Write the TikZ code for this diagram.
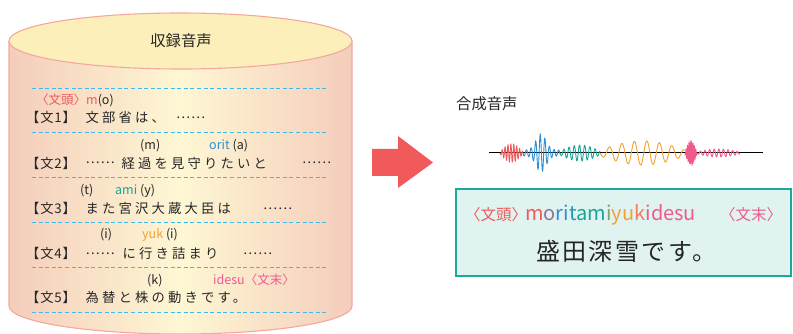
\documentclass[tikz,border=0pt]{standalone}
\usepackage{fontspec}
\setmainfont{Noto Sans CJK JP}
\definecolor{cylEdge}{HTML}{F4CDBB}
\definecolor{cylMid}{HTML}{FEF7D4}
\definecolor{cylTop}{HTML}{FDEFBA}
\definecolor{cylLine}{HTML}{F4A79E}
\definecolor{dashC}{HTML}{3DBBEA}
\definecolor{txt}{HTML}{262626}
\definecolor{cRed}{HTML}{EE5A5A}
\definecolor{cBlue}{HTML}{2E8FD3}
\definecolor{cTeal}{HTML}{16A596}
\definecolor{cOrange}{HTML}{F4A02E}
\definecolor{cPink}{HTML}{EE5A8E}
\definecolor{arrowC}{HTML}{F05A5A}
\definecolor{boxFill}{HTML}{E1F3F1}
\definecolor{boxLine}{HTML}{1AAA9A}
\begin{document}
\begin{tikzpicture}[x=1pt,y=-1pt,
  linetext/.style={anchor=base west, inner sep=0pt, text=txt,
    font=\fontsize{13.3}{15}\selectfont\addfontfeature{LetterSpace=24}},
  dots/.style={anchor=base west, inner sep=0pt, text=txt, yshift=4pt,
    font=\fontsize{13.3}{15}\selectfont\addfontfeature{LetterSpace=6}},
  labeltext/.style={anchor=base west, inner sep=0pt, text=txt,
    font=\fontsize{13.3}{15}\selectfont\addfontfeature{LetterSpace=6}},
  ann/.style={anchor=base west, inner sep=0pt, text=txt,
    font=\fontsize{12.5}{14}\selectfont},
  sep/.style={draw=dashC, line width=0.9pt, dash pattern=on 4pt off 2.6pt},
  wave/.style={line width=0.9pt, smooth},
  title/.style={inner sep=0pt, text=txt, font=\fontsize{15.3}{17}\selectfont}
]
\useasboundingbox (0,0) rectangle (793,334);

% cylinder
\shade[left color=cylEdge, right color=cylEdge, middle color=cylMid]
  (9,41) -- (9,306) arc[start angle=180, end angle=360, x radius=171.5pt, y radius=28pt]
  -- (352,41) -- cycle;
\draw[cylLine, line width=1.1pt]
  (9,41) -- (9,306) arc[start angle=180, end angle=360, x radius=171.5pt, y radius=28pt]
  -- (352,41);
\draw[cylLine, line width=1.1pt, fill=cylTop] (180.5,41) ellipse[x radius=171.5pt, y radius=28pt];
\node[title] (t1) at (181,41) {収録音声};

% separators
\foreach \yy in {88,132,177,222,267,312} \draw[sep] (32,\yy) -- (328,\yy);

% line 1
\node[ann, text=cRed] (a1) at (36,105) {〈文頭〉m\textcolor{txt}{(o)}};
\node[labeltext] (l1) at (26,123) {【文1】};
\node[linetext] (s1) at (85.5,123) {文部省は、};
\node[dots] (s1d) at (176,123) {……};

% line 2
\node[ann] (a2a) at (140,150) {(m)};
\node[ann, text=cBlue] (a2b) at (209,150) {orit \textcolor{txt}{(a)}};
\node[labeltext] (l2) at (26,168) {【文2】};
\node[dots] (s2a) at (85.5,168) {……};
\node[linetext] (s2b) at (121.5,168) {経過を見守りたいと};
\node[dots] (s2c) at (302,168) {……};

% line 3
\node[ann] (a3a) at (80,194) {(t)};
\node[ann, text=cTeal] (a3b) at (115,194) {ami \textcolor{txt}{(y)}};
\node[labeltext] (l3) at (26,213) {【文3】};
\node[linetext] (s3a) at (85.5,213) {また宮沢大蔵大臣は};
\node[dots] (s3b) at (263,213) {……};

% line 4
\node[ann] (a4a) at (100,238) {(i)};
\node[ann, text=cOrange] (a4b) at (142,238) {yuk \textcolor{txt}{(i)}};
\node[labeltext] (l4) at (26,258) {【文4】};
\node[dots] (s4a) at (85.5,258) {……};
\node[linetext] (s4b) at (122.5,258) {に行き詰まり};
\node[dots] (s4c) at (243,258) {……};

% line 5
\node[ann] (a5a) at (147,284) {(k)};
\node[ann, text=cPink] (a5b) at (213,284) {idesu〈文末〉};
\node[labeltext] (l5) at (26,302) {【文5】};
\node[linetext] (s5) at (85.5,302) {為替と株の動きです。};

% big arrow
\fill[arrowC] (372,149) -- (398,149) -- (398,136) -- (433,162.5) -- (398,188)
  -- (398,176) -- (372,176) -- cycle;

% synthesized
\node[title, anchor=west] (t2) at (456,104) {合成音声};

\draw[black, line width=1pt] (489,153) -- (763,153);
\draw[wave, cRed] plot[domain=500:523, samples=220] (\x, {153 + (1+8*sin((\x-500)/23*180))*sin((\x-500)/2.9*360)});
\draw[wave, cBlue] plot[domain=523:560, samples=260] (\x, {153 + (3+16*exp(-((\x-541)/7)^2))*sin((\x-523)/4.6*360)});
\draw[wave, cTeal] plot[domain=560:600, samples=240] (\x, {153 + (2+6*sin((\x-560)/40*180))*sin((\x-560)/5.2*360)});
\draw[wave, cOrange] plot[domain=600:685, samples=300] (\x, {153 + (3+9*sin((\x-600)/85*180))*sin((\x-600)/12.5*360)});
\draw[wave, cPink] plot[domain=685:697, samples=200] (\x, {153 + (1+10*sin((\x-685)/12*180))*sin((\x-685)/1.4*360)});
\draw[wave, cPink] plot[domain=697:740, samples=240] (\x, {153 + (1+3*sin((\x-697)/43*180))*sin((\x-697)/4.6*360)});

% result box
\draw[boxLine, line width=1.8pt, fill=boxFill] (456,189) rectangle (791,276);
\node[anchor=base west, inner sep=0pt, text=cRed, font=\fontsize{15.5}{17}\selectfont] (h1) at (465,220) {〈文頭〉};
\node[anchor=base west, inner sep=0pt, font=\fontsize{20}{22}\selectfont] (w1) at (525,220)
 {\textcolor{cRed}{m}\textcolor{cRed!50!cBlue}{o}\textcolor{cBlue}{ri}\textcolor{cBlue!50!cTeal}{t}\textcolor{cTeal}{am}\textcolor{cTeal!50!cOrange}{i}\textcolor{cOrange}{yu}\textcolor{cOrange!50!cPink}{k}\textcolor{cPink}{idesu}};
\node[anchor=base west, inner sep=0pt, text=cPink, font=\fontsize{15.5}{17}\selectfont] (h2) at (720,220) {〈文末〉};
\node[anchor=base west, inner sep=0pt, text=txt, font=\fontsize{24}{26}\selectfont\addfontfeature{LetterSpace=10}] (w2) at (536,260) {盛田深雪です。};
\end{tikzpicture}
\end{document}
